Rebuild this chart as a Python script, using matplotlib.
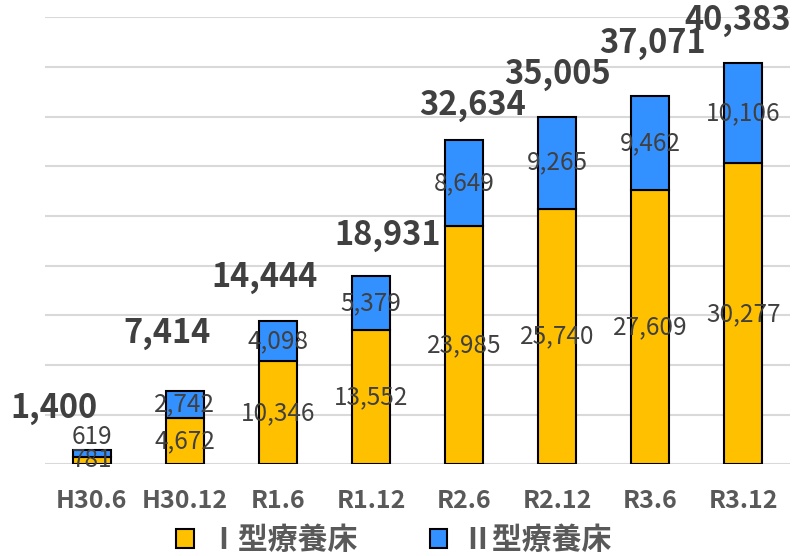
import numpy as np
import matplotlib.pyplot as plt

plt.rcParams['font.family'] = ['Noto Sans CJK JP', 'DejaVu Sans']

# data
periods = ['H30.6', 'H30.12', 'R1.6', 'R1.12', 'R2.6', 'R2.12', 'R3.6', 'R3.12']
type1 = [781, 4672, 10346, 13552, 23985, 25740, 27609, 30277]
type2 = [619, 2742, 4098, 5379, 8649, 9265, 9462, 10106]
totals = [1400, 7414, 14444, 18931, 32634, 35005, 37071, 40383]
series_names = ['Ⅰ型療養床', 'Ⅱ型療養床']

# layout tweaks for the total labels (points), like the hand-placed ones in the original
total_dx = [-27, -13, -10, 12, 6, 0, 2, -4]
total_dy = [30, 41, 31, 29, 25, 30, 38, 31]

yellow = '#FFC000'
blue = '#3390FF'
text_gray = '#404040'

fig = plt.figure(figsize=(7.96, 5.56), dpi=100)
ax = fig.add_axes([0.057, 0.165, 0.935, 0.804])

x = np.arange(len(periods))
w = 0.41
b1 = ax.bar(x, type1, w, color=yellow, edgecolor='black', linewidth=1.5, zorder=3, label=series_names[0])
b2 = ax.bar(x, type2, w, bottom=type1, color=blue, edgecolor='black', linewidth=1.5, zorder=3, label=series_names[1])

for i in range(len(periods)):
    ax.text(x[i], type1[i] / 2, f'{type1[i]:,}', ha='center', va='center',
            fontsize=17.5, color=text_gray, zorder=4)
    y2 = type1[i] + type2[i] / 2
    if type2[i] < 1000:
        y2 = totals[i] + 1300
    ax.text(x[i], y2, f'{type2[i]:,}', ha='center', va='center',
            fontsize=17.5, color=text_gray, zorder=4)
    ax.annotate(f'{totals[i]:,}', (x[i], totals[i]), xytext=(total_dx[i], total_dy[i]),
                textcoords='offset points', ha='center', va='center',
                fontsize=23.5, fontweight='bold', color=text_gray, zorder=4)

ax.set_xlim(-0.5, len(periods) - 0.5)
ax.set_ylim(0, 45000)
ax.set_yticks(np.arange(0, 45001, 5000))
ax.yaxis.grid(True, color='#D9D9D9', linewidth=1.5, zorder=0)
ax.tick_params(axis='y', left=False, labelleft=False)
ax.tick_params(axis='x', length=0, pad=18)
ax.set_xticks(x)
ax.set_xticklabels(periods, fontsize=18, fontweight='bold', color='#595959')
for s in ax.spines.values():
    s.set_visible(False)

leg = ax.legend(loc='center', bbox_to_anchor=(0.468, -0.17), ncol=2, frameon=False,
                fontsize=21.5, handlelength=0.6, handleheight=0.6, columnspacing=2.4,
                handletextpad=0.5, borderpad=0)
for t in leg.get_texts():
    t.set_color('#595959')
    t.set_fontweight('bold')

fig.savefig('out.png', dpi=100)
